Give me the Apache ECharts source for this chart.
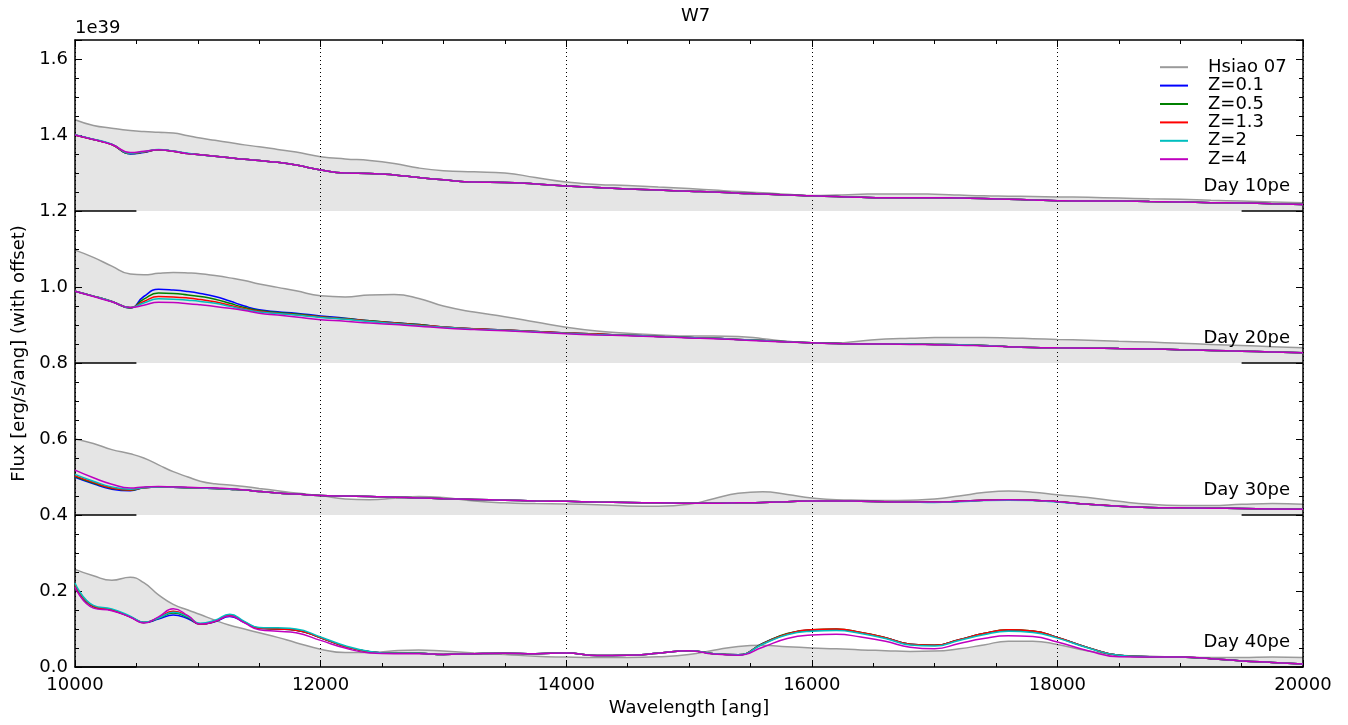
<!DOCTYPE html>
<html><head><meta charset="utf-8">
<script src="https://cdn.jsdelivr.net/npm/echarts@6/dist/echarts.min.js"></script>
<style>html,body{margin:0;padding:0;background:#fff}#chart{width:1348px;height:725px}</style>
</head><body><div id="chart"></div>
<script>
// ---------------- data ----------------
const wavelength = [10000,10150,10300,10450,10560,10680,10800,10920,11020,11140,
  11260,11380,11500,11650,11800,12000,12200,12400,12600,12800,
  13000,13250,13500,13750,14000,14250,14500,14750,15000,15200,
  15400,15600,15800,16000,16200,16400,16600,16800,17000,17200,
  17400,17600,17800,18000,18250,18500,18750,19000,19250,19500,
  19750,20000];

const dayLabels = ['Day 10pe','Day 20pe','Day 30pe','Day 40pe'];
const offsets = [1.2, 0.8, 0.4, 0.0];
const zNames = ['Z=0.1','Z=0.5','Z=1.3','Z=2','Z=4'];
const xTicks = [10000, 12000, 14000, 16000, 18000, 20000];
const yTickLabels = ['0.0','0.2','0.4','0.6','0.8','1.0','1.2','1.4','1.6'];

// Day 10 (offset 1.2)
const day10_hsiao = [1.440,1.425,1.418,1.412,1.409,1.407,1.405,1.398,1.392,1.386,
  1.380,1.374,1.369,1.362,1.355,1.343,1.337,1.333,1.325,1.313,
  1.306,1.303,1.300,1.288,1.276,1.270,1.267,1.263,1.259,1.255,
  1.251,1.248,1.244,1.241,1.242,1.244,1.245,1.245,1.244,1.242,
  1.240,1.239,1.238,1.237,1.236,1.234,1.232,1.231,1.228,1.226,
  1.224,1.222];
const day10_z01 = [1.400,1.388,1.375,1.350,1.354,1.361,1.357,1.351,1.348,1.344,
  1.340,1.336,1.333,1.328,1.321,1.308,1.300,1.299,1.295,1.288,
  1.282,1.276,1.275,1.271,1.266,1.262,1.258,1.255,1.252,1.250,
  1.247,1.245,1.242,1.240,1.238,1.236,1.235,1.235,1.235,1.234,
  1.233,1.231,1.229,1.227,1.226,1.226,1.225,1.224,1.222,1.221,
  1.219,1.217];
const day10_z05 = [1.400,1.388,1.375,1.351,1.355,1.361,1.357,1.351,1.348,1.344,
  1.340,1.336,1.333,1.328,1.321,1.308,1.300,1.299,1.295,1.288,
  1.282,1.276,1.275,1.271,1.266,1.262,1.258,1.255,1.252,1.250,
  1.247,1.245,1.242,1.240,1.238,1.236,1.235,1.235,1.235,1.234,
  1.233,1.231,1.229,1.227,1.226,1.226,1.225,1.224,1.222,1.221,
  1.219,1.217];
const day10_z13 = [1.400,1.388,1.375,1.352,1.355,1.361,1.357,1.351,1.348,1.344,
  1.340,1.336,1.333,1.328,1.321,1.308,1.300,1.299,1.295,1.288,
  1.282,1.276,1.275,1.271,1.266,1.262,1.258,1.255,1.252,1.250,
  1.247,1.245,1.242,1.240,1.238,1.236,1.235,1.235,1.235,1.234,
  1.233,1.231,1.229,1.227,1.226,1.226,1.225,1.224,1.222,1.221,
  1.219,1.217];
const day10_z2 = [1.401,1.389,1.376,1.352,1.356,1.362,1.358,1.352,1.348,1.344,
  1.340,1.336,1.333,1.328,1.321,1.308,1.300,1.299,1.295,1.288,
  1.282,1.276,1.275,1.271,1.266,1.262,1.258,1.255,1.252,1.250,
  1.247,1.245,1.242,1.240,1.238,1.236,1.235,1.235,1.235,1.234,
  1.233,1.231,1.229,1.227,1.226,1.226,1.225,1.224,1.222,1.221,
  1.219,1.217];
const day10_z4 = [1.400,1.388,1.375,1.354,1.357,1.361,1.357,1.351,1.348,1.344,
  1.340,1.336,1.333,1.328,1.321,1.308,1.300,1.299,1.295,1.288,
  1.282,1.276,1.275,1.271,1.266,1.262,1.258,1.255,1.252,1.250,
  1.247,1.245,1.242,1.240,1.238,1.236,1.235,1.235,1.235,1.234,
  1.233,1.231,1.229,1.227,1.226,1.226,1.225,1.224,1.222,1.221,
  1.219,1.217];

// Day 20 (offset 0.8)
const day20_hsiao = [1.097,1.078,1.055,1.034,1.032,1.036,1.038,1.037,1.035,1.030,
  1.024,1.017,1.008,0.999,0.990,0.977,0.974,0.979,0.980,0.970,
  0.950,0.934,0.922,0.908,0.894,0.884,0.878,0.874,0.871,0.871,
  0.870,0.864,0.857,0.853,0.853,0.858,0.863,0.865,0.867,0.867,
  0.867,0.866,0.864,0.862,0.860,0.857,0.855,0.852,0.849,0.846,
  0.843,0.840];
const day20_z01 = [0.989,0.976,0.962,0.945,0.975,0.994,0.992,0.988,0.983,0.975,
  0.963,0.950,0.940,0.935,0.931,0.924,0.918,0.911,0.906,0.901,
  0.895,0.890,0.887,0.883,0.879,0.876,0.873,0.870,0.867,0.865,
  0.862,0.859,0.856,0.853,0.851,0.850,0.850,0.850,0.849,0.848,
  0.846,0.843,0.841,0.840,0.839,0.838,0.837,0.835,0.833,0.831,
  0.829,0.827];
const day20_z05 = [0.989,0.976,0.962,0.945,0.968,0.984,0.983,0.979,0.975,0.968,
  0.957,0.946,0.938,0.933,0.929,0.922,0.917,0.911,0.906,0.901,
  0.895,0.890,0.887,0.883,0.879,0.876,0.873,0.870,0.867,0.865,
  0.862,0.859,0.856,0.853,0.851,0.850,0.850,0.850,0.849,0.848,
  0.846,0.843,0.841,0.840,0.839,0.838,0.837,0.835,0.833,0.831,
  0.829,0.827];
const day20_z13 = [0.989,0.976,0.962,0.946,0.962,0.975,0.974,0.971,0.967,0.961,
  0.952,0.943,0.936,0.931,0.927,0.921,0.916,0.910,0.905,0.900,
  0.895,0.890,0.887,0.883,0.879,0.876,0.873,0.870,0.867,0.865,
  0.862,0.859,0.856,0.853,0.851,0.850,0.850,0.850,0.849,0.848,
  0.846,0.843,0.841,0.840,0.839,0.838,0.837,0.835,0.833,0.831,
  0.829,0.827];
const day20_z2 = [0.989,0.976,0.962,0.946,0.958,0.969,0.968,0.965,0.962,0.957,
  0.949,0.941,0.934,0.930,0.926,0.920,0.915,0.909,0.904,0.899,
  0.894,0.889,0.886,0.882,0.878,0.875,0.873,0.870,0.867,0.865,
  0.862,0.859,0.856,0.853,0.851,0.850,0.850,0.850,0.849,0.848,
  0.846,0.843,0.841,0.840,0.839,0.838,0.837,0.835,0.833,0.831,
  0.829,0.827];
const day20_z4 = [0.989,0.975,0.961,0.946,0.952,0.960,0.959,0.956,0.953,0.949,
  0.944,0.938,0.931,0.926,0.921,0.914,0.910,0.905,0.901,0.897,
  0.892,0.888,0.885,0.881,0.877,0.874,0.872,0.869,0.866,0.864,
  0.861,0.858,0.855,0.853,0.851,0.850,0.850,0.849,0.848,0.847,
  0.845,0.843,0.841,0.840,0.839,0.838,0.837,0.835,0.833,0.831,
  0.829,0.827];

// Day 30 (offset 0.4)
const day30_hsiao = [0.600,0.588,0.572,0.561,0.550,0.532,0.514,0.500,0.489,0.482,
  0.479,0.475,0.470,0.464,0.458,0.451,0.442,0.440,0.444,0.449,
  0.446,0.437,0.432,0.430,0.429,0.427,0.424,0.423,0.428,0.443,
  0.457,0.461,0.454,0.445,0.440,0.439,0.438,0.439,0.442,0.450,
  0.459,0.463,0.460,0.453,0.446,0.436,0.428,0.425,0.425,0.428,
  0.430,0.428];
const day30_z01 = [0.499,0.482,0.468,0.464,0.472,0.474,0.473,0.472,0.471,0.470,
  0.468,0.466,0.462,0.458,0.455,0.451,0.450,0.449,0.447,0.445,
  0.443,0.441,0.439,0.437,0.436,0.434,0.433,0.432,0.431,0.431,
  0.432,0.433,0.435,0.437,0.437,0.436,0.435,0.434,0.434,0.436,
  0.439,0.440,0.439,0.435,0.428,0.423,0.420,0.419,0.418,0.417,
  0.416,0.415];
const day30_z05 = [0.501,0.484,0.470,0.465,0.472,0.474,0.473,0.472,0.471,0.470,
  0.468,0.466,0.462,0.458,0.455,0.451,0.450,0.449,0.447,0.445,
  0.443,0.441,0.439,0.437,0.436,0.434,0.433,0.432,0.431,0.431,
  0.432,0.433,0.435,0.437,0.437,0.436,0.435,0.434,0.434,0.436,
  0.439,0.440,0.439,0.435,0.428,0.423,0.420,0.419,0.418,0.417,
  0.416,0.415];
const day30_z13 = [0.503,0.486,0.471,0.466,0.472,0.474,0.473,0.472,0.471,0.470,
  0.468,0.466,0.462,0.458,0.455,0.451,0.450,0.449,0.447,0.445,
  0.443,0.441,0.439,0.437,0.436,0.434,0.433,0.432,0.431,0.431,
  0.432,0.433,0.435,0.437,0.437,0.436,0.435,0.434,0.434,0.436,
  0.439,0.440,0.439,0.435,0.428,0.423,0.420,0.419,0.418,0.417,
  0.416,0.415];
const day30_z2 = [0.507,0.489,0.474,0.468,0.472,0.474,0.473,0.472,0.471,0.470,
  0.468,0.466,0.462,0.458,0.455,0.451,0.450,0.449,0.447,0.445,
  0.443,0.441,0.439,0.437,0.436,0.434,0.433,0.432,0.431,0.431,
  0.432,0.433,0.435,0.437,0.437,0.436,0.435,0.434,0.433,0.435,
  0.438,0.439,0.438,0.434,0.428,0.423,0.420,0.419,0.418,0.417,
  0.416,0.415];
const day30_z4 = [0.518,0.498,0.481,0.471,0.474,0.475,0.474,0.473,0.472,0.471,
  0.469,0.466,0.462,0.458,0.455,0.451,0.450,0.449,0.447,0.445,
  0.443,0.441,0.439,0.437,0.436,0.434,0.433,0.432,0.431,0.431,
  0.432,0.433,0.435,0.437,0.437,0.436,0.435,0.434,0.434,0.436,
  0.439,0.440,0.439,0.435,0.428,0.423,0.420,0.419,0.418,0.417,
  0.416,0.415];

// Day 40 (offset 0.0)
const day40_hsiao = [0.257,0.240,0.228,0.236,0.222,0.190,0.165,0.150,0.138,0.123,
  0.110,0.100,0.090,0.078,0.064,0.047,0.038,0.038,0.043,0.045,
  0.042,0.037,0.033,0.028,0.026,0.025,0.025,0.027,0.033,0.044,
  0.054,0.057,0.053,0.050,0.048,0.045,0.043,0.041,0.042,0.048,
  0.058,0.068,0.068,0.059,0.042,0.031,0.028,0.026,0.025,0.025,
  0.026,0.025];
const day40_z01 = [0.216,0.159,0.150,0.132,0.117,0.126,0.137,0.127,0.113,0.119,
  0.133,0.117,0.102,0.100,0.097,0.077,0.054,0.040,0.036,0.036,
  0.033,0.035,0.036,0.035,0.037,0.030,0.031,0.036,0.043,0.035,
  0.032,0.062,0.087,0.097,0.099,0.090,0.077,0.060,0.057,0.072,
  0.088,0.097,0.094,0.078,0.051,0.031,0.027,0.026,0.022,0.016,
  0.012,0.008];
const day40_z05 = [0.216,0.159,0.150,0.132,0.117,0.128,0.142,0.130,0.113,0.120,
  0.135,0.118,0.102,0.100,0.097,0.077,0.054,0.040,0.036,0.036,
  0.033,0.035,0.036,0.035,0.037,0.030,0.031,0.036,0.043,0.035,
  0.032,0.062,0.088,0.098,0.100,0.091,0.077,0.060,0.057,0.072,
  0.088,0.098,0.095,0.078,0.051,0.031,0.027,0.026,0.022,0.016,
  0.012,0.008];
const day40_z13 = [0.217,0.160,0.150,0.132,0.117,0.130,0.147,0.133,0.113,0.120,
  0.136,0.118,0.102,0.100,0.097,0.077,0.054,0.040,0.036,0.036,
  0.033,0.035,0.036,0.035,0.037,0.030,0.031,0.036,0.043,0.035,
  0.032,0.061,0.087,0.098,0.100,0.091,0.077,0.060,0.057,0.072,
  0.088,0.098,0.095,0.078,0.051,0.031,0.027,0.026,0.022,0.016,
  0.012,0.008];
const day40_z2 = [0.221,0.162,0.153,0.134,0.118,0.129,0.144,0.132,0.115,0.123,
  0.139,0.120,0.104,0.103,0.100,0.079,0.056,0.041,0.036,0.036,
  0.033,0.035,0.036,0.035,0.037,0.030,0.031,0.036,0.043,0.035,
  0.032,0.060,0.085,0.094,0.096,0.088,0.075,0.058,0.055,0.070,
  0.085,0.094,0.091,0.076,0.050,0.031,0.027,0.026,0.022,0.016,
  0.012,0.008];
const day40_z4 = [0.210,0.155,0.148,0.131,0.116,0.132,0.153,0.135,0.113,0.120,
  0.134,0.116,0.098,0.094,0.090,0.070,0.050,0.037,0.035,0.035,
  0.033,0.035,0.036,0.035,0.037,0.030,0.031,0.036,0.043,0.034,
  0.031,0.052,0.075,0.084,0.086,0.079,0.068,0.052,0.048,0.062,
  0.075,0.082,0.080,0.066,0.043,0.027,0.026,0.026,0.022,0.016,
  0.012,0.008];

const hsiaoByDay = [day10_hsiao, day20_hsiao, day30_hsiao, day40_hsiao];
const modelsByDay = [
  [day10_z01, day10_z05, day10_z13, day10_z2, day10_z4],
  [day20_z01, day20_z05, day20_z13, day20_z2, day20_z4],
  [day30_z01, day30_z05, day30_z13, day30_z2, day30_z4],
  [day40_z01, day40_z05, day40_z13, day40_z2, day40_z4]
];

// ---------------- styles ----------------
const FONT = 'DejaVu Sans';
const FS = 18;
const SMOOTH = 0.5;
const zColors = ['#0000ff', '#008000', '#ff0000', '#00bfbf', '#bf00bf'];
const hsiaoColor = '#9a9a9a';
const fillColor = '#e5e5e5';

const series = [];
const pairs = arr => wavelength.map((w, i) => [w, arr[i]]);

hsiaoByDay.forEach((h, d) => {
  series.push({
    name: 'Hsiao 07', type: 'line', data: pairs(h),
    smooth: SMOOTH, symbol: 'none', z: 1,
    lineStyle: { color: hsiaoColor, width: 1.5 },
    itemStyle: { color: hsiaoColor },
    areaStyle: { color: fillColor, opacity: 1, origin: offsets[d] },
    silent: true
  });
});
modelsByDay.forEach((models, d) => {
  models.forEach((m, k) => {
    const s = {
      name: zNames[k], type: 'line', data: pairs(m),
      smooth: SMOOTH, symbol: 'none', z: 3,
      lineStyle: { color: zColors[k], width: 1.5 },
      itemStyle: { color: zColors[k] },
      silent: true
    };
    if (k === 0) {
      const o = offsets[d];
      s.markLine = {
        silent: true, symbol: 'none', label: { show: false },
        lineStyle: { color: '#000', type: 'solid', width: 1.5 },
        data: [
          [{ coord: [10000, o] }, { coord: [10500, o] }],
          [{ coord: [19500, o] }, { coord: [20000, o] }]
        ]
      };
      s.markPoint = {
        silent: true, symbol: 'circle', symbolSize: 0,
        data: [{
          coord: [19895, o + 0.065],
          label: {
            show: true, formatter: dayLabels[d], position: 'left', distance: 0,
            fontFamily: FONT, fontSize: FS, color: '#000'
          }
        }]
      };
    }
    series.push(s);
  });
});

const xCommon = {
  type: 'value', min: 10000, max: 20000, interval: 2000, z: 2,
  axisLine: { show: true, onZero: false, lineStyle: { color: '#000', width: 1.5 } },
  axisTick: { show: true, inside: true, length: 7, lineStyle: { color: '#000', width: 1 } },
  minorTick: { show: true, splitNumber: 4, length: 4, lineStyle: { color: '#000', width: 1 } }
};
const yCommon = {
  type: 'value', min: 0, max: 1.65, interval: 0.2, z: 2,
  axisLine: { show: true, onZero: false, lineStyle: { color: '#000', width: 1.5 } },
  axisTick: { show: true, inside: true, length: 7, lineStyle: { color: '#000', width: 1 } },
  minorTick: { show: true, splitNumber: 4, length: 4, lineStyle: { color: '#000', width: 1 } },
  splitLine: { show: false }
};

const option = {
  animation: false,
  backgroundColor: '#fff',
  textStyle: { fontFamily: FONT },
  title: {
    text: 'W7', left: 676, top: 2,
    textStyle: { fontFamily: FONT, fontSize: FS, fontWeight: 'normal', color: '#000' }
  },
  grid: { left: 75, right: 45, top: 40, bottom: 58, containLabel: false },
  legend: {
    data: ['Hsiao 07'].concat(zNames),
    orient: 'vertical', left: 1155, top: 53,
    icon: 'rect', itemWidth: 28, itemHeight: 2, itemGap: 0,
    selectedMode: false,
    textStyle: { fontFamily: FONT, fontSize: FS, color: '#000', lineHeight: 18.4, padding: [0, 0, 0, 15] }
  },
  xAxis: [
    Object.assign({}, xCommon, {
      position: 'bottom',
      axisLabel: {
        show: true, fontFamily: FONT, fontSize: FS, color: '#000', margin: 9,
        formatter: v => (xTicks.indexOf(v) >= 0 ? String(v) : '')
      },
      splitLine: { show: true, lineStyle: { color: '#000', type: [1, 3], width: 1 } },
      name: 'Wavelength [ang]', nameLocation: 'middle', nameGap: 30,
      nameTextStyle: { fontFamily: FONT, fontSize: FS, color: '#000' }
    }),
    Object.assign({}, xCommon, {
      position: 'top', axisLabel: { show: false }, splitLine: { show: false }
    })
  ],
  yAxis: [
    Object.assign({}, yCommon, {
      position: 'left',
      axisLabel: {
        show: true, fontFamily: FONT, fontSize: FS, color: '#000', margin: 7,
        formatter: v => {
          const idx = Math.round(v / 0.2);
          return Math.abs(v - idx * 0.2) < 1e-6 && yTickLabels[idx] ? yTickLabels[idx] : '';
        }
      },
      name: 'Flux [erg/s/ang] (with offset)', nameLocation: 'middle', nameGap: 44,
      nameRotate: 90,
      nameTextStyle: { fontFamily: FONT, fontSize: FS, color: '#000' }
    }),
    Object.assign({}, yCommon, {
      position: 'right', axisLabel: { show: false }
    })
  ],
  graphic: [{
    type: 'text', left: 75, top: 19,
    style: { text: '1e39', font: FS + 'px "DejaVu Sans"', fill: '#000' }
  }],
  series: series
};

const chart = echarts.init(document.getElementById('chart'), null, { renderer: 'canvas' });
chart.setOption(option);
</script></body></html>
